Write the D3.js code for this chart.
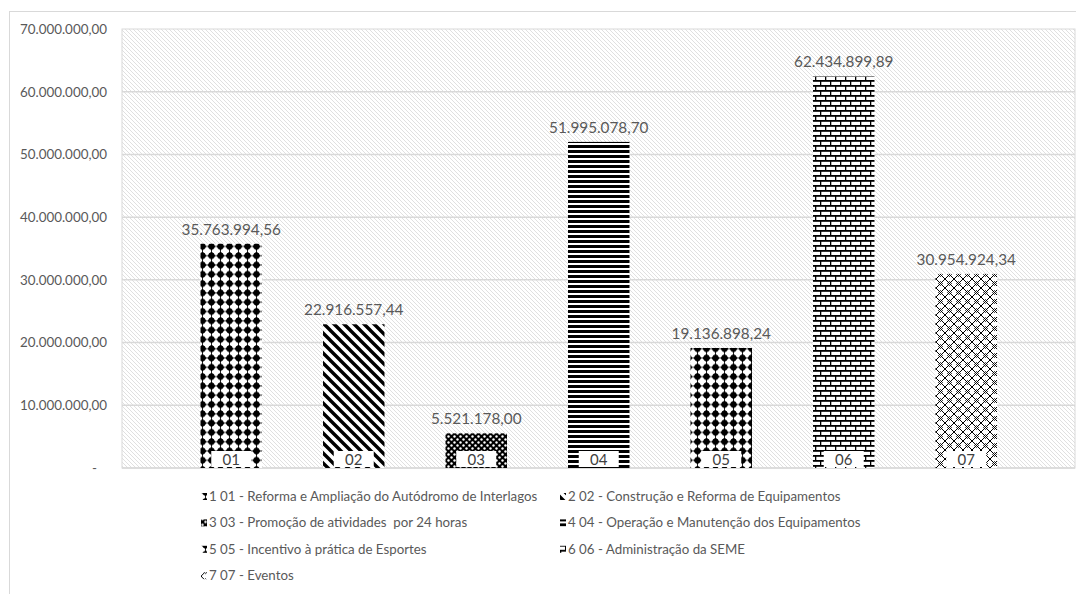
<!DOCTYPE html>
<html><head><meta charset="utf-8">
<script src="https://cdn.jsdelivr.net/npm/d3@7"></script>
<style>
body{margin:0;background:#fff;}
text{font-family:Lato,"Noto Sans",sans-serif;white-space:pre;}
</style></head>
<body><svg id="c" width="1076" height="594"></svg>
<script>
const codes = ["01","02","03","04","05","06","07"];
const values = [35763994.56, 22916557.44, 5521178.00, 51995078.70, 19136898.24, 62434899.89, 30954924.34];
const valueLabels = ["35.763.994,56","22.916.557,44","5.521.178,00","51.995.078,70","19.136.898,24","62.434.899,89","30.954.924,34"];
const legendNames = ["1 01 - Reforma e Ampliação do Autódromo de Interlagos","2 02 - Construção e Reforma de Equipamentos","3 03 - Promoção de atividades  por 24 horas","4 04 - Operação e Manutenção dos Equipamentos","5 05 - Incentivo à prática de Esportes","6 06 - Administração da SEME","7 07 - Eventos"];
const patternIds = ["pDots","pDiag","pSphere","pHoriz","pDots","pBrick","pTrellis"];
const yTicks = [0,10000000,20000000,30000000,40000000,50000000,60000000,70000000];
const yTickLabels = ["-","10.000.000,00","20.000.000,00","30.000.000,00","40.000.000,00","50.000.000,00","60.000.000,00","70.000.000,00"];

const svg = d3.select("#c");
const defs = svg.append("defs");

// background hatch
let p = defs.append("pattern").attr("id","pBg").attr("patternUnits","userSpaceOnUse").attr("width",4).attr("height",4);
p.append("rect").attr("width",4).attr("height",4).attr("fill","#fff");
p.append("path").attr("d","M-1,-1L5,5M-1,3L1,5M3,-1L5,1").attr("stroke","#e0e0e0").attr("stroke-width",1);

// dots (01,05)
p = defs.append("pattern").attr("id","pDots").attr("patternUnits","userSpaceOnUse").attr("width",9).attr("height",9.3);
p.append("rect").attr("width",9).attr("height",9.3).attr("fill","#fff");
p.append("path").attr("d","M4.5,0.4L8.4,4.6L4.5,8.8L0.6,4.6Z").attr("fill","#000");
p.append("circle").attr("cx",4.5).attr("cy",4.6).attr("r",3.1).attr("fill","#000");
p.append("path").attr("d","M0,4.6H9M4.5,0V9.3").attr("stroke","#000").attr("stroke-width",0.8);

// diagonal stripes (02)
p = defs.append("pattern").attr("id","pDiag").attr("patternUnits","userSpaceOnUse").attr("width",10).attr("height",10);
p.append("rect").attr("width",10).attr("height",10).attr("fill","#fff");
p.append("path").attr("d","M-2,-2L12,12M-2,8L2,12M8,-2L12,2").attr("stroke","#000").attr("stroke-width",3.4);

// sphere (03)
p = defs.append("pattern").attr("id","pSphere").attr("patternUnits","userSpaceOnUse").attr("width",6).attr("height",6);
p.append("rect").attr("width",6).attr("height",6).attr("fill","#000");
p.append("circle").attr("cx",1.5).attr("cy",1.5).attr("r",1.2).attr("fill","#fff");
p.append("circle").attr("cx",4.5).attr("cy",4.5).attr("r",1.2).attr("fill","#fff");

// horizontal (04)
p = defs.append("pattern").attr("id","pHoriz").attr("patternUnits","userSpaceOnUse").attr("width",8).attr("height",5);
p.append("rect").attr("width",8).attr("height",5).attr("fill","#fff");
p.append("rect").attr("width",8).attr("height",3).attr("fill","#000");

// brick (06)
p = defs.append("pattern").attr("id","pBrick").attr("patternUnits","userSpaceOnUse").attr("width",10).attr("height",10);
p.append("rect").attr("width",10).attr("height",10).attr("fill","#fff");
p.append("rect").attr("y",0).attr("width",10).attr("height",1.8).attr("fill","#000");
p.append("rect").attr("y",5).attr("width",10).attr("height",1.8).attr("fill","#000");
p.append("rect").attr("x",0).attr("y",0).attr("width",1.3).attr("height",5).attr("fill","#000");
p.append("rect").attr("x",5).attr("y",5).attr("width",1.3).attr("height",5).attr("fill","#000");

// trellis (07)
p = defs.append("pattern").attr("id","pTrellis").attr("patternUnits","userSpaceOnUse").attr("width",9).attr("height",9);
p.append("rect").attr("width",9).attr("height",9).attr("fill","#fff");
p.append("path").attr("d","M0,0L9,9M9,0L0,9").attr("stroke","#000").attr("stroke-width",1);
p.append("path").attr("d","M4.5,2.5L6.5,4.5L4.5,6.5L2.5,4.5Z").attr("fill","none").attr("stroke","#000").attr("stroke-width",0.9);

// outer border
svg.append("rect").attr("x",9.5).attr("y",11.5).attr("width",1100).attr("height",700)
  .attr("fill","#fff").attr("stroke","#d9d9d9").attr("stroke-width",1);

const plotL = 122, plotR = 1075, plotT = 29, plotB = 468;
const y = d3.scaleLinear().domain([0,70000000]).range([plotB, plotT]);
const x = d3.scaleBand().domain(codes).range([170, 1027.5]).paddingInner(0.5).paddingOuter(0.25);

svg.append("rect").attr("x",plotL).attr("y",plotT).attr("width",plotR-plotL).attr("height",plotB-plotT)
  .attr("fill","url(#pBg)").attr("stroke","#d9d9d9").attr("stroke-width",1);

// gridlines
svg.append("g").selectAll("line").data(yTicks.slice(1,-1)).join("line")
  .attr("x1",plotL).attr("x2",plotR).attr("y1",d=>y(d)).attr("y2",d=>y(d))
  .attr("stroke","#d9d9d9").attr("stroke-width",1.5);
svg.append("line").attr("x1",plotL).attr("x2",plotR).attr("y1",plotB).attr("y2",plotB).attr("stroke","#d9d9d9").attr("stroke-width",1.5);

// y axis labels
const yAxis = d3.axisLeft(y).tickValues(yTicks).tickFormat((d,i)=>yTickLabels[i]).tickSize(0).tickPadding(0);
const ga = svg.append("g").attr("transform","translate(107,0)").call(yAxis);
ga.select(".domain").remove();
ga.selectAll("text").attr("fill","#595959").style("font-size","13.4px").style("font-family","Lato");
ga.selectAll("text").filter((d,i)=>i===0).attr("dx",-10);

// bars
const bw = 61.5;
svg.append("g").selectAll("rect").data(values).join("rect")
  .attr("x",(d,i)=>x(codes[i])+x.bandwidth()/2-bw/2).attr("width",bw)
  .attr("y",d=>y(d)).attr("height",d=>plotB-y(d))
  .attr("fill",(d,i)=>`url(#${patternIds[i]})`);

// value labels
svg.append("g").selectAll("text").data(values).join("text")
  .attr("x",(d,i)=>x(codes[i])+x.bandwidth()/2).attr("y",d=>y(d)-9)
  .attr("text-anchor","middle").attr("fill","#595959").style("font-size","15.3px")
  .text((d,i)=>valueLabels[i]);

// category boxes
const cg = svg.append("g").selectAll("g").data(codes).join("g")
  .attr("transform",d=>`translate(${x(d)+x.bandwidth()/2},${plotB})`);
cg.append("rect").attr("x",-20).attr("y",-17).attr("width",40).attr("height",16).attr("fill","#fff");
cg.append("text").attr("y",-3).attr("text-anchor","middle").attr("fill","#404040").style("font-size","15px").text(d=>d);

// legend
const lg = svg.append("g").selectAll("g").data(legendNames).join("g")
  .attr("transform",(d,i)=>`translate(${i%2===0?201:560},${497+Math.floor(i/2)*26.4})`);
lg.append("rect").attr("x",0).attr("y",-4).attr("width",6).attr("height",7)
  .attr("fill",(d,i)=>`url(#${patternIds[i]})`);
lg.append("text").attr("x",8).attr("y",4).attr("fill","#595959").style("font-size","13.3px").text(d=>d);
</script></body></html>
